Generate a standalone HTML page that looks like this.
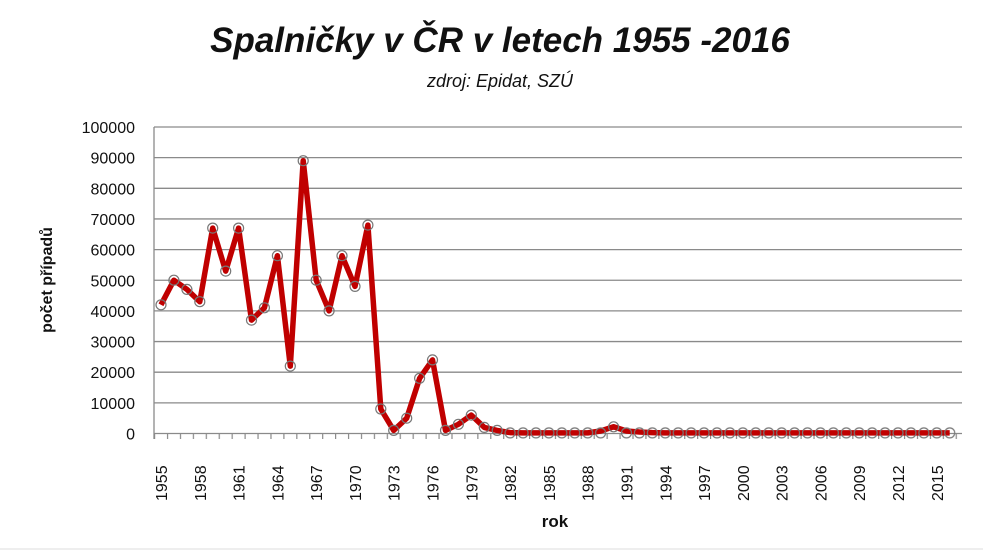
<!DOCTYPE html><html><head><meta charset="utf-8"><style>body{margin:0;background:#fff}svg{display:block}text{font-family:"Liberation Sans",sans-serif}</style></head><body>
<svg width="983" height="559" xmlns="http://www.w3.org/2000/svg">
<defs>
<pattern id="tk" x="154" y="0" width="12.93" height="10" patternUnits="userSpaceOnUse"><rect x="0" y="0" width="1.2" height="10" fill="#8a8a8a"/></pattern>
<pattern id="mk" x="154.535" y="426.9" width="12.93" height="12" patternUnits="userSpaceOnUse"><circle cx="6.465" cy="6" r="5" fill="none" stroke="#777" stroke-width="1.2"/></pattern>
</defs>
<rect width="983" height="559" fill="#fff"/>
<text x="500" y="52" text-anchor="middle" font-size="35" font-style="italic" font-weight="bold" fill="#111">Spalničky v ČR v letech 1955 -2016</text>
<text x="500" y="87" text-anchor="middle" font-size="18" font-style="italic" fill="#111">zdroj: Epidat, SZÚ</text>
<g stroke="#8a8a8a" stroke-width="1.3">
<line x1="154" x2="962" y1="433.5" y2="433.5"/><line x1="154" x2="962" y1="402.85" y2="402.85"/><line x1="154" x2="962" y1="372.2" y2="372.2"/><line x1="154" x2="962" y1="341.55" y2="341.55"/><line x1="154" x2="962" y1="310.9" y2="310.9"/><line x1="154" x2="962" y1="280.25" y2="280.25"/><line x1="154" x2="962" y1="249.6" y2="249.6"/><line x1="154" x2="962" y1="218.95" y2="218.95"/><line x1="154" x2="962" y1="188.3" y2="188.3"/><line x1="154" x2="962" y1="157.65" y2="157.65"/><line x1="154" x2="962" y1="127" y2="127"/>
<line x1="154" x2="154" y1="127" y2="439"/>
</g>
<rect x="154" y="433" width="808" height="6" fill="url(#tk)"/>
<g font-size="16" fill="#111" text-anchor="end">
<text x="135" y="439.5">0</text><text x="135" y="408.85">10000</text><text x="135" y="378.2">20000</text><text x="135" y="347.55">30000</text><text x="135" y="316.9">40000</text><text x="135" y="286.25">50000</text><text x="135" y="255.6">60000</text><text x="135" y="224.95">70000</text><text x="135" y="194.3">80000</text><text x="135" y="163.65">90000</text><text x="135" y="133">100000</text>
</g>
<g font-size="16" fill="#111">
<text transform="translate(167,501) rotate(-90)">1955</text>
<text transform="translate(205.8,501) rotate(-90)">1958</text>
<text transform="translate(244.6,501) rotate(-90)">1961</text>
<text transform="translate(283.4,501) rotate(-90)">1964</text>
<text transform="translate(322.2,501) rotate(-90)">1967</text>
<text transform="translate(361,501) rotate(-90)">1970</text>
<text transform="translate(399.7,501) rotate(-90)">1973</text>
<text transform="translate(438.5,501) rotate(-90)">1976</text>
<text transform="translate(477.3,501) rotate(-90)">1979</text>
<text transform="translate(516.1,501) rotate(-90)">1982</text>
<text transform="translate(554.9,501) rotate(-90)">1985</text>
<text transform="translate(593.7,501) rotate(-90)">1988</text>
<text transform="translate(632.5,501) rotate(-90)">1991</text>
<text transform="translate(671.3,501) rotate(-90)">1994</text>
<text transform="translate(710.1,501) rotate(-90)">1997</text>
<text transform="translate(748.9,501) rotate(-90)">2000</text>
<text transform="translate(787.6,501) rotate(-90)">2003</text>
<text transform="translate(826.4,501) rotate(-90)">2006</text>
<text transform="translate(865.2,501) rotate(-90)">2009</text>
<text transform="translate(904,501) rotate(-90)">2012</text>
<text transform="translate(942.8,501) rotate(-90)">2015</text>
</g>
<polyline fill="none" stroke="#c00000" stroke-width="5.5" stroke-linejoin="round" points="161,304.8 173.9,280.2 186.9,289.4 199.8,301.7 212.7,228.1 225.7,271.1 238.6,228.1 251.5,320.1 264.4,307.8 277.4,255.7 290.3,366.1 303.2,160.7 316.2,280.2 329.1,310.9 342,255.7 355,286.4 367.9,225.1 380.8,409 393.7,430.4 406.7,418.2 419.6,378.3 432.5,359.9 445.5,430.4 458.4,424.3 471.3,415.1 484.3,427.4 497.2,430.4 510.1,432.6 523,432.9 587.7,432.9 600.6,431 613.6,426.8 626.5,431 639.4,432 652.3,432.6 665.3,432.9 949.7,432.9"/>
<g fill="none" stroke="#777" stroke-width="1.2">
<circle cx="161" cy="304.8" r="5"/><circle cx="173.9" cy="280.2" r="5"/><circle cx="186.9" cy="289.4" r="5"/><circle cx="199.8" cy="301.7" r="5"/><circle cx="212.7" cy="228.1" r="5"/><circle cx="225.7" cy="271.1" r="5"/><circle cx="238.6" cy="228.1" r="5"/><circle cx="251.5" cy="320.1" r="5"/><circle cx="264.4" cy="307.8" r="5"/><circle cx="277.4" cy="255.7" r="5"/><circle cx="290.3" cy="366.1" r="5"/><circle cx="303.2" cy="160.7" r="5"/><circle cx="316.2" cy="280.2" r="5"/><circle cx="329.1" cy="310.9" r="5"/><circle cx="342" cy="255.7" r="5"/><circle cx="355" cy="286.4" r="5"/><circle cx="367.9" cy="225.1" r="5"/><circle cx="380.8" cy="409" r="5"/><circle cx="393.7" cy="430.4" r="5"/><circle cx="406.7" cy="418.2" r="5"/><circle cx="419.6" cy="378.3" r="5"/><circle cx="432.5" cy="359.9" r="5"/><circle cx="445.5" cy="430.4" r="5"/><circle cx="458.4" cy="424.3" r="5"/><circle cx="471.3" cy="415.1" r="5"/><circle cx="484.3" cy="427.4" r="5"/><circle cx="497.2" cy="430.4" r="5"/><circle cx="613.6" cy="426.8" r="5"/>
</g>
<rect x="503.6" y="426.9" width="103.5" height="12" fill="url(#mk)"/>
<rect x="619.9" y="426.9" width="336.3" height="12" fill="url(#mk)"/>
<text transform="translate(52,280) rotate(-90)" text-anchor="middle" font-size="16" font-weight="bold" fill="#111">počet případů</text>
<text x="555" y="527" text-anchor="middle" font-size="17" font-weight="bold" fill="#111">rok</text>
<line x1="0" x2="983" y1="549" y2="549" stroke="#ddd"/>
</svg></body></html>
